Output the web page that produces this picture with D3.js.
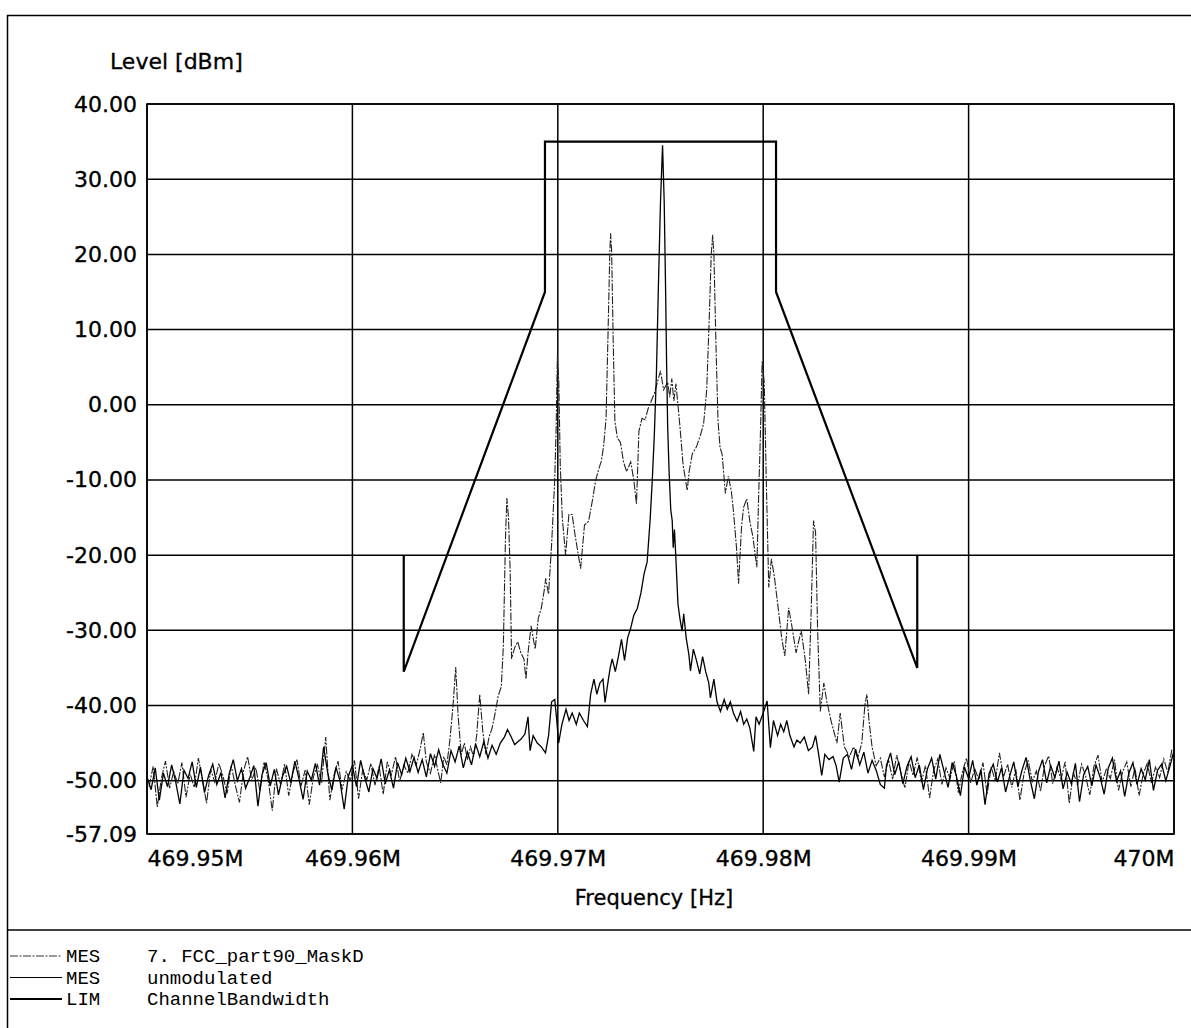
<!DOCTYPE html>
<html><head><meta charset="utf-8">
<script src="https://cdn.jsdelivr.net/npm/d3@7"></script>
<style>body{margin:0;background:#fff}svg{display:block}</style>
</head><body><svg id="c" width="1191" height="1028"></svg>
<script>
// ---------- data ----------
const centerHz = 469975000;            // offsets below are in kHz from this frequency
const xTickValues = [469950000, 469960000, 469970000, 469980000, 469990000, 470000000];
const xTickLabels = ["469.95M", "469.96M", "469.97M", "469.98M", "469.99M", "470M"];
const yTickValues = [40, 30, 20, 10, 0, -10, -20, -30, -40, -50, -57.09];
const yTickLabels = ["40.00", "30.00", "20.00", "10.00", "0.00", "-10.00", "-20.00", "-30.00", "-40.00", "-50.00", "-57.09"];

const maskOffsetKHz = [-12.5, -12.5, -5.625, -5.625, 5.625, 5.625, 12.5, 12.5];
const maskLevel     = [-20, -35.5, 15, 35, 35, 15, -35, -20];

const unmodulated = [
[-25.0,-49.5],[-24.8,-51.2],[-24.6,-48.3],[-24.4,-52.6],[-24.2,-49.0],[-24.0,-50.8],[-23.8,-47.9],[-23.6,-50.2],[-23.4,-53.1],[-23.2,-48.6],
[-23.0,-49.7],[-22.8,-47.5],[-22.6,-50.9],[-22.4,-48.2],[-22.2,-51.6],[-22.0,-49.3],[-21.8,-47.8],[-21.6,-50.5],[-21.4,-48.9],[-21.2,-52.3],
[-21.0,-49.1],[-20.8,-47.2],[-20.6,-50.0],[-20.4,-48.4],[-20.2,-51.0],[-20.0,-49.6],[-19.8,-48.0],[-19.6,-53.4],[-19.4,-49.2],[-19.2,-47.6],
[-19.0,-50.7],[-18.8,-48.5],[-18.6,-51.9],[-18.4,-49.4],[-18.2,-48.1],[-18.0,-50.3],[-17.8,-47.4],[-17.6,-49.8],[-17.4,-52.5],[-17.2,-48.7],
[-17.0,-49.9],[-16.8,-47.7],[-16.6,-50.6],[-16.4,-45.5],[-16.2,-49.0],[-16.0,-51.3],[-15.8,-48.2],[-15.6,-50.1],[-15.4,-53.8],[-15.2,-49.4],
[-15.0,-48.0],[-14.8,-50.8],[-14.6,-47.3],[-14.4,-49.6],[-14.2,-51.5],[-14.0,-48.4],[-13.8,-49.7],[-13.6,-47.1],[-13.4,-50.4],[-13.2,-48.6],
[-13.0,-51.0],[-12.8,-47.6],[-12.6,-49.2],[-12.4,-47.0],[-12.2,-48.8],
[-12.0,-46.9],[-11.8,-48.9],[-11.6,-47.2],[-11.4,-49.5],[-11.2,-46.4],[-11.0,-48.1],[-10.8,-45.9],[-10.6,-47.8],[-10.4,-49.0],[-10.2,-46.0],
[-10.0,-47.5],[-9.8,-45.4],[-9.6,-48.3],[-9.4,-46.2],[-9.2,-47.9],[-9.0,-45.1],[-8.8,-46.8],[-8.6,-44.8],[-8.4,-47.0],[-8.2,-45.3],[-8.0,-46.5],
[-7.8,-45.0],[-7.6,-44.2],[-7.45,-43.2],[-7.3,-44.0],[-7.1,-45.2],[-6.97,-44.9],[-6.8,-44.5],[-6.6,-43.8],[-6.45,-41.5],[-6.35,-46.0],
[-6.2,-44.0],[-6.0,-45.0],[-5.8,-45.5],[-5.6,-46.3],[-5.45,-44.0],[-5.3,-39.5],[-5.15,-39.2],[-5.05,-42.0],[-4.96,-45.0],[-4.8,-42.5],
[-4.6,-40.5],[-4.45,-42.0],[-4.3,-41.0],[-4.1,-42.5],[-3.95,-41.0],[-3.75,-42.0],[-3.56,-42.8],[-3.4,-38.5],[-3.24,-36.5],[-3.1,-38.5],
[-2.95,-37.0],[-2.8,-36.5],[-2.7,-39.6],[-2.59,-37.5],[-2.45,-35.0],[-2.35,-33.8],[-2.2,-35.5],[-2.05,-33.5],[-1.9,-31.2],[-1.75,-34.0],
[-1.6,-31.0],[-1.46,-29.8],[-1.3,-28.0],[-1.13,-27.1],[-0.95,-25.0],[-0.8,-22.5],[-0.65,-20.9],[-0.5,-15.1],[-0.4,-10.0],[-0.3,-4.0],
[-0.2,4.0],[-0.1,16.0],[0.0,27.0],[0.1,34.5],[0.18,27.0],[0.25,15.0],[0.3,5.0],[0.35,-3.0],[0.42,-9.0],[0.5,-14.0],
[0.57,-15.4],[0.62,-19.0],[0.68,-16.6],[0.75,-20.5],[0.85,-26.5],[0.95,-28.5],[1.05,-30.1],[1.13,-27.8],[1.25,-31.0],[1.38,-33.2],
[1.46,-35.4],[1.6,-32.5],[1.75,-34.0],[1.91,-35.8],[2.05,-33.5],[2.2,-35.5],[2.35,-37.0],[2.43,-39.0],[2.6,-36.5],[2.75,-39.5],
[2.92,-40.8],[3.1,-39.2],[3.25,-40.5],[3.4,-39.5],[3.55,-41.0],[3.73,-42.1],[3.9,-40.8],[4.05,-42.5],[4.2,-41.8],[4.35,-43.0],
[4.54,-46.1],[4.65,-41.5],[4.8,-42.5],[5.0,-41.0],[5.19,-39.4],[5.35,-45.6],[5.5,-42.0],[5.7,-44.0],[5.85,-42.5],[6.0,-43.5],
[6.15,-42.0],[6.3,-44.0],[6.5,-45.5],[6.64,-44.6],[6.8,-45.0],[7.0,-44.2],[7.2,-46.0],[7.4,-45.5],[7.55,-44.0],[7.7,-46.5],
[7.85,-49.3],[8.0,-46.5],[8.2,-47.2],[8.4,-46.8],[8.55,-48.0],[8.7,-50.2],[8.9,-47.0],[9.1,-46.5],[9.3,-48.5],[9.5,-45.8],
[9.7,-47.9],[9.9,-46.2],[10.1,-49.0],[10.3,-47.3],[10.5,-48.6],[10.7,-50.5],[10.9,-51.0],
[11.0,-48.0],[11.2,-46.3],[11.4,-49.2],[11.6,-47.5],[11.8,-50.4],[12.0,-48.1],[12.2,-46.8],[12.4,-49.6],[12.6,-47.9],[12.8,-51.2],
[13.0,-48.4],[13.2,-47.0],[13.4,-49.8],[13.6,-46.5],[13.8,-48.7],[14.0,-50.9],[14.2,-47.6],[14.4,-49.3],[14.6,-52.0],[14.8,-48.2],
[15.0,-49.7],[15.2,-47.3],[15.4,-50.6],[15.6,-48.5],[15.8,-53.2],[16.0,-49.0],[16.2,-47.8],[16.4,-50.2],[16.6,-48.3],[16.8,-51.5],
[17.0,-49.4],[17.2,-47.5],[17.4,-50.8],[17.6,-48.6],[17.8,-46.9],[18.0,-49.9],[18.2,-52.4],[18.4,-48.8],[18.6,-47.2],[18.8,-50.3],
[19.0,-48.0],[19.2,-49.6],[19.4,-47.4],[19.6,-51.1],[19.8,-48.9],[20.0,-50.4],[20.2,-47.7],[20.4,-52.8],[20.6,-49.2],[20.8,-48.1],
[21.0,-50.7],[21.2,-47.9],[21.4,-49.5],[21.6,-51.8],[21.8,-48.3],[22.0,-47.0],[22.2,-50.1],[22.4,-48.7],[22.6,-52.1],[22.8,-49.0],
[23.0,-47.6],[23.2,-50.5],[23.4,-48.4],[23.6,-49.9],[23.8,-47.2],[24.0,-51.3],[24.2,-48.6],[24.4,-47.8],[24.6,-50.0],[24.8,-48.1],[25.0,-46.0]
];

const modulated = [
[-24.9,-50.8],[-24.7,-48.1],[-24.5,-53.5],[-24.3,-49.7],[-24.1,-47.4],[-23.9,-51.0],[-23.7,-48.8],[-23.5,-50.4],[-23.3,-47.6],[-23.1,-52.2],
[-22.9,-49.1],[-22.7,-50.9],[-22.5,-47.0],[-22.3,-49.8],[-22.1,-53.0],[-21.9,-48.5],[-21.7,-50.2],[-21.5,-47.7],[-21.3,-49.4],[-21.1,-51.7],
[-20.9,-48.0],[-20.7,-50.6],[-20.5,-52.9],[-20.3,-48.7],[-20.1,-46.8],[-19.9,-50.0],[-19.7,-48.3],[-19.5,-51.4],[-19.3,-47.5],[-19.1,-49.9],
[-18.9,-54.0],[-18.7,-48.4],[-18.5,-50.5],[-18.3,-47.8],[-18.1,-52.0],[-17.9,-49.0],[-17.7,-47.2],[-17.5,-50.7],[-17.3,-48.6],[-17.1,-53.2],
[-16.9,-49.5],[-16.7,-47.9],[-16.5,-50.3],[-16.3,-44.2],[-16.1,-52.6],[-15.9,-49.3],[-15.7,-47.4],[-15.5,-51.2],[-15.3,-48.8],[-15.1,-50.0],
[-14.9,-47.3],[-14.7,-52.4],[-14.5,-48.5],[-14.3,-49.9],[-14.1,-47.7],[-13.9,-50.6],[-13.7,-48.1],[-13.5,-51.8],[-13.3,-47.5],[-13.1,-49.2],
[-12.9,-46.8],[-12.7,-50.1],[-12.5,-47.9],[-12.3,-49.0],[-12.1,-46.5],
[-11.9,-48.0],[-11.7,-45.8],[-11.55,-43.6],[-11.4,-47.5],[-11.2,-49.0],[-11.0,-46.5],[-10.85,-48.5],[-10.7,-50.3],[-10.55,-46.8],[-10.4,-47.9],
[-10.25,-44.5],[-10.1,-40.0],[-9.97,-34.9],[-9.85,-41.5],[-9.7,-46.5],[-9.55,-45.0],[-9.4,-47.2],[-9.25,-45.5],[-9.1,-46.8],[-8.95,-44.0],
[-8.8,-38.5],[-8.65,-43.5],[-8.5,-46.5],[-8.35,-44.2],[-8.2,-43.0],[-8.05,-41.0],[-7.9,-38.7],[-7.75,-37.5],[-7.65,-32.0],[-7.55,-18.0],
[-7.48,-12.4],[-7.4,-15.0],[-7.32,-22.0],[-7.25,-33.8],[-7.1,-32.3],[-6.95,-31.5],[-6.8,-33.0],[-6.65,-33.8],[-6.55,-36.5],[-6.45,-33.0],
[-6.3,-29.4],[-6.2,-31.0],[-6.1,-32.5],[-5.95,-28.4],[-5.8,-27.0],[-5.65,-24.5],[-5.59,-23.1],[-5.45,-25.2],[-5.3,-18.5],[-5.15,-10.0],
[-5.08,-3.0],[-5.02,6.6],[-4.95,3.0],[-4.88,-8.0],[-4.78,-15.1],[-4.62,-20.0],[-4.46,-14.6],[-4.3,-14.6],[-4.15,-17.5],[-3.89,-21.8],
[-3.7,-16.0],[-3.5,-15.5],[-3.3,-12.5],[-3.16,-10.1],[-3.0,-8.5],[-2.88,-7.5],[-2.77,-5.5],[-2.65,-1.8],[-2.55,10.0],[-2.47,20.0],
[-2.43,22.8],[-2.38,20.5],[-2.3,8.0],[-2.22,-2.2],[-2.1,-4.4],[-1.95,-5.0],[-1.8,-7.6],[-1.65,-8.9],[-1.45,-7.6],[-1.3,-10.0],
[-1.17,-13.2],[-1.05,-3.5],[-0.9,-1.8],[-0.75,-2.0],[-0.6,-0.5],[-0.45,0.5],[-0.3,1.5],[-0.15,3.0],[0.0,4.5],[0.15,2.0],
[0.35,3.0],[0.45,1.0],[0.55,3.5],[0.65,0.5],[0.75,2.8],[0.85,0.0],[0.95,-3.0],[1.1,-8.0],[1.3,-11.4],[1.4,-8.8],
[1.55,-6.5],[1.75,-5.6],[1.95,-4.0],[2.1,-2.5],[2.25,2.0],[2.38,12.0],[2.47,20.0],[2.54,22.6],[2.6,20.0],[2.7,8.0],
[2.8,-2.2],[2.9,-5.7],[3.0,-6.6],[3.16,-11.8],[3.3,-9.5],[3.45,-11.5],[3.55,-14.1],[3.7,-19.0],[3.8,-23.8],[3.95,-16.0],
[4.05,-13.6],[4.2,-12.5],[4.35,-15.5],[4.5,-17.6],[4.69,-21.6],[4.78,-12.0],[4.86,-4.3],[4.95,5.8],[5.05,3.0],[5.15,-10.0],
[5.27,-24.3],[5.4,-20.5],[5.55,-23.0],[5.75,-27.5],[5.9,-31.0],[6.05,-33.4],[6.24,-27.0],[6.4,-29.5],[6.6,-33.0],[6.85,-30.0],
[7.05,-34.0],[7.21,-38.5],[7.33,-28.0],[7.45,-15.4],[7.55,-17.0],[7.65,-30.0],[7.78,-40.8],[7.95,-37.0],[8.1,-39.5],[8.3,-42.0],
[8.59,-45.0],[8.75,-41.0],[8.95,-45.5],[9.2,-46.8],[9.4,-45.5],[9.6,-47.0],[9.8,-45.0],[9.95,-40.0],[10.05,-38.5],[10.15,-42.0],
[10.3,-45.5],[10.5,-48.0],[10.7,-47.0],[10.9,-49.5],
[11.1,-47.2],[11.3,-49.8],[11.5,-46.6],[11.7,-48.9],[11.9,-51.0],[12.1,-47.4],[12.3,-49.3],[12.5,-46.9],[12.7,-50.2],[12.9,-48.0],
[13.1,-52.3],[13.3,-48.6],[13.5,-47.1],[13.7,-50.5],[13.9,-48.3],[14.1,-49.7],[14.3,-47.4],[14.5,-51.6],[14.7,-48.8],[14.9,-47.0],
[15.1,-50.3],[15.3,-48.4],[15.5,-49.9],[15.7,-47.6],[15.9,-51.8],[16.1,-48.2],[16.3,-50.0],[16.5,-46.3],[16.7,-49.5],[16.9,-47.8],
[17.1,-50.9],[17.3,-48.5],[17.5,-52.6],[17.7,-49.0],[17.9,-47.3],[18.1,-50.1],[18.3,-48.7],[18.5,-51.4],[18.7,-48.0],[18.9,-46.7],
[19.1,-50.4],[19.3,-48.2],[19.5,-49.8],[19.7,-47.5],[19.9,-53.0],[20.1,-48.9],[20.3,-50.6],[20.5,-47.8],[20.7,-49.4],[20.9,-51.9],
[21.1,-48.1],[21.3,-46.6],[21.5,-50.2],[21.7,-48.5],[21.9,-49.7],[22.1,-47.2],[22.3,-51.3],[22.5,-48.8],[22.7,-47.5],[22.9,-50.8],
[23.1,-48.3],[23.3,-52.0],[23.5,-49.1],[23.7,-47.7],[23.9,-50.3],[24.1,-48.2],[24.3,-49.6],[24.5,-47.1],[24.7,-48.9],[24.9,-45.8]
];

const legendTags  = ["MES", "MES", "LIM"];
const legendNames = ["7. FCC_part90_MaskD", "unmodulated", "ChannelBandwidth"];
const yAxisTitle = "Level [dBm]";
const xAxisTitle = "Frequency [Hz]";

// ---------- drawing ----------
const svg = d3.select("#c");
const L = 147, R = 1174, T = 104, B = 834;
const x = d3.scaleLinear().domain([469950000, 470000000]).range([L, R]);
const y = d3.scaleLinear().domain([-57.09, 40]).range([B, T]);
const sansFont = "'DejaVu Sans', Verdana, sans-serif";
const monoFont = "'Liberation Mono', 'Courier New', monospace";

svg.append("rect").attr("width", 1191).attr("height", 1028).attr("fill", "#fff");
// outer frame + legend separator
svg.append("rect").attr("x", 7.5).attr("y", 15.5).attr("width", 1200).attr("height", 1030)
  .attr("fill", "none").attr("stroke", "#000").attr("stroke-width", 1.5);
svg.append("line").attr("x1", 7.5).attr("x2", 1191).attr("y1", 930).attr("y2", 930)
  .attr("stroke", "#000").attr("stroke-width", 1.5);

svg.append("defs").append("clipPath").attr("id", "plotclip")
  .append("rect").attr("x", L).attr("y", T).attr("width", R - L).attr("height", B - T);

// grid
const grid = svg.append("g");
grid.selectAll("line.h").data(yTickValues).join("line")
  .attr("x1", L).attr("x2", R).attr("y1", d => y(d)).attr("y2", d => y(d))
  .attr("stroke", "#000").attr("stroke-width", 1.5);
grid.selectAll("line.v").data(xTickValues).join("line")
  .attr("y1", T).attr("y2", B).attr("x1", d => x(d)).attr("x2", d => x(d))
  .attr("stroke", "#000").attr("stroke-width", 1.5);
svg.append("rect").attr("x", L).attr("y", T).attr("width", R - L).attr("height", B - T)
  .attr("fill", "none").attr("stroke", "#000").attr("stroke-width", 1.6);

// axes labels
const yAxis = d3.axisLeft(y).tickValues(yTickValues).tickFormat((d, i) => yTickLabels[i]).tickSize(0).tickPadding(10);
const gy = svg.append("g").attr("transform", `translate(${L},0)`).call(yAxis);
gy.select(".domain").remove();
gy.selectAll("text").attr("font-family", sansFont).attr("font-size", 22).attr("fill", "#000")
  .attr("stroke", "#000").attr("stroke-width", 0.35);

const xAxis = d3.axisBottom(x).tickValues(xTickValues).tickFormat((d, i) => xTickLabels[i]).tickSize(0).tickPadding(16);
const gx = svg.append("g").attr("transform", `translate(0,${B})`).call(xAxis);
gx.select(".domain").remove();
gx.selectAll("text").attr("font-family", sansFont).attr("font-size", 22).attr("fill", "#000")
  .attr("stroke", "#000").attr("stroke-width", 0.35)
  .attr("text-anchor", (d, i) => i === 0 ? "start" : (i === xTickValues.length - 1 ? "end" : "middle"))
  .attr("dx", (d, i) => i === 0 ? -x(d) + L : 0);

svg.append("text").attr("x", 110).attr("y", 69).text(yAxisTitle)
  .attr("font-family", sansFont).attr("font-size", 22).attr("stroke", "#000").attr("stroke-width", 0.3);
svg.append("text").attr("x", 654).attr("y", 905).attr("text-anchor", "middle").text(xAxisTitle)
  .attr("font-family", sansFont).attr("font-size", 21).attr("stroke", "#000").attr("stroke-width", 0.3);

// traces
const plot = svg.append("g").attr("clip-path", "url(#plotclip)");
const line = d3.line().x(d => x(centerHz + d[0] * 1000)).y(d => y(d[1]));
plot.append("path").datum(modulated).attr("d", line).attr("fill", "none")
  .attr("stroke", "#222").attr("stroke-width", 1.1).attr("stroke-dasharray", "8,1.5,2,1.5");
plot.append("path").datum(unmodulated).attr("d", line).attr("fill", "none")
  .attr("stroke", "#000").attr("stroke-width", 1.3);
const maskPts = maskOffsetKHz.map((o, i) => [o, maskLevel[i]]);
plot.append("path").datum(maskPts).attr("d", line).attr("fill", "none")
  .attr("stroke", "#000").attr("stroke-width", 2.2);

// legend
const lg = svg.append("g");
const styles = [
  {c: "#333", w: 1, dash: "8,1.5,2,1.5"},
  {c: "#000", w: 1.2, dash: null},
  {c: "#000", w: 2.2, dash: null}
];
legendNames.forEach((nm, i) => {
  const yy = 956 + i * 21.5;
  lg.append("line").attr("x1", 10).attr("x2", 62).attr("y1", yy).attr("y2", yy)
    .attr("stroke", styles[i].c).attr("stroke-width", styles[i].w).attr("stroke-dasharray", styles[i].dash);
  lg.append("text").attr("x", 66).attr("y", yy + 6).text(legendTags[i])
    .attr("font-family", monoFont).attr("font-size", 19);
  lg.append("text").attr("x", 147).attr("y", yy + 6).text(nm)
    .attr("font-family", monoFont).attr("font-size", 19);
});
</script></body></html>
